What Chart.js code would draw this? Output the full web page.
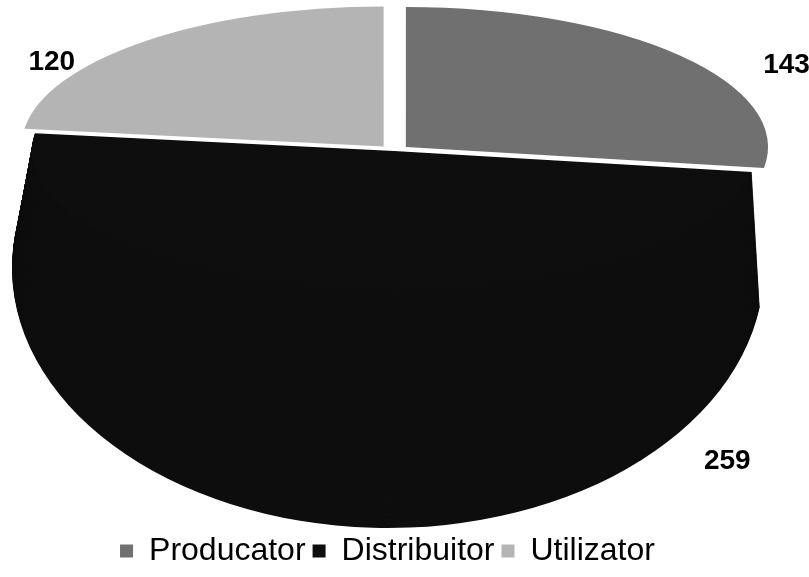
<!DOCTYPE html>
<html lang="ro">
<head>
    <meta charset="UTF-8">
    <title>Producator / Distribuitor / Utilizator</title>
    <script src="https://cdn.jsdelivr.net/npm/chart.js@4.4.0/dist/chart.umd.min.js"></script>
    <style>
        body {
            margin: 0;
            background: #fff;
        }
        #wrap {
            width: 809px;
            height: 577px;
        }
    </style>
</head>
<body>
    <div id="wrap">
        <canvas id="pie" width="809" height="577"></canvas>
    </div>

    <script>
        const categories = ['Producator', 'Distribuitor', 'Utilizator'];
        const values = [143, 259, 120];
        const sliceColors = ['#707070', '#0e0e0e', '#b4b4b4'];

        // top face and base of the tilted pie, in canvas pixels
        const topFace = { cx: 394, cy: 151, rx: 362, ry: 140 };
        const baseFace = { cx: 388, cy: 268, rx: 376, ry: 260 };
        const wallSteps = 140;
        const wallSlice = 1; // the front slice carries the visible side wall

        // where each value label sits (face, angle turn in degrees, radial factors)
        const labelPlace = [
            { face: topFace, turn: 0, kx: 1.43, ky: 0.94 },
            { face: baseFace, turn: -58.4, kx: 1.17, ky: 1.17 },
            { face: topFace, turn: 0, kx: 1.43, ky: 0.84 }
        ];

        function lerp(a, b, t) {
            return a + (b - a) * t;
        }

        function drawArcOn(ctx, arc, face) {
            const R = arc.outerRadius;
            ctx.save();
            ctx.translate(face.cx, face.cy);
            ctx.scale(face.rx / R, face.ry / R);
            ctx.translate(-arc.x, -arc.y);
            arc.draw(ctx);
            ctx.restore();
        }

        // squashes the flat pie into a thick tilted disc
        const tiltedPie = {
            id: 'tiltedPie',
            beforeDatasetsDraw(chart) {
                const ctx = chart.ctx;
                const arcs = chart.getDatasetMeta(0).data;
                for (let i = wallSteps; i >= 1; i--) {
                    const t = i / wallSteps;
                    drawArcOn(ctx, arcs[wallSlice], {
                        cx: lerp(topFace.cx, baseFace.cx, t),
                        cy: lerp(topFace.cy, baseFace.cy, t),
                        rx: lerp(topFace.rx, baseFace.rx, t),
                        ry: lerp(topFace.ry, baseFace.ry, t)
                    });
                }
                arcs.forEach(arc => drawArcOn(ctx, arc, topFace));
                return false;
            },
            afterDraw(chart) {
                const ctx = chart.ctx;
                const arcs = chart.getDatasetMeta(0).data;
                ctx.save();
                ctx.font = 'bold 28px "Liberation Sans", Arial, sans-serif';
                ctx.fillStyle = '#000';
                ctx.textAlign = 'center';
                ctx.textBaseline = 'middle';
                arcs.forEach((arc, i) => {
                    const p = labelPlace[i];
                    const a = (arc.startAngle + arc.endAngle) / 2 + p.turn * Math.PI / 180;
                    const x = p.face.cx + Math.cos(a) * p.face.rx * p.kx;
                    const y = p.face.cy + Math.sin(a) * p.face.ry * p.ky;
                    ctx.fillText(String(values[i]), x, y);
                });
                ctx.restore();
            }
        };

        const ctx = document.getElementById('pie').getContext('2d');
        const chart = new Chart(ctx, {
            type: 'pie',
            data: {
                labels: categories,
                datasets: [{
                    data: values,
                    backgroundColor: sliceColors,
                    borderWidth: 0,
                    offset: [42, 0, 42],
                    hoverOffset: 0
                }]
            },
            options: {
                responsive: false,
                animation: false,
                events: [],
                layout: {
                    padding: { bottom: 0, right: 34 }
                },
                plugins: {
                    legend: {
                        position: 'bottom',
                        labels: {
                            color: '#000',
                            boxWidth: 13,
                            boxHeight: 13,
                            padding: 7,
                            font: {
                                size: 32,
                                family: '"Liberation Sans", Arial, sans-serif'
                            }
                        }
                    },
                    tooltip: { enabled: false }
                }
            },
            plugins: [tiltedPie]
        });
    </script>
</body>
</html>
